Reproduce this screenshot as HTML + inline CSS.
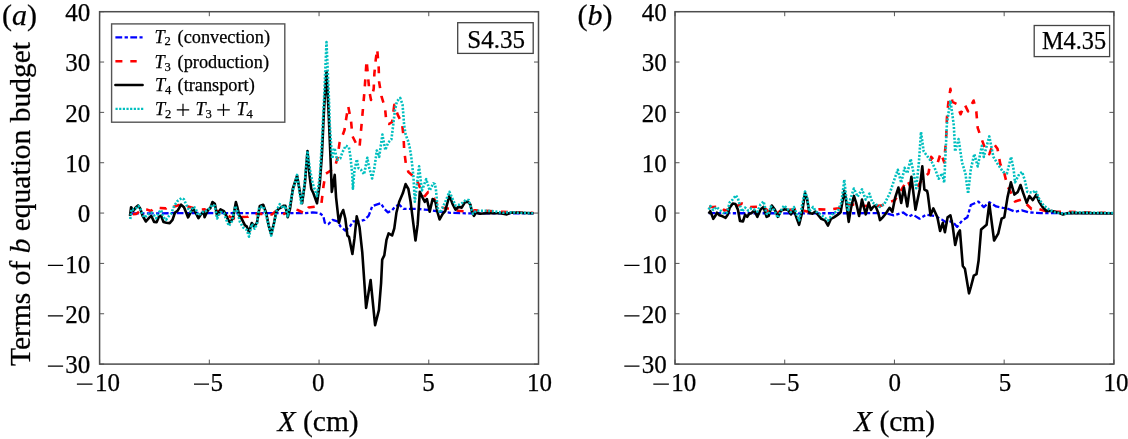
<!DOCTYPE html>
<html><head><meta charset="utf-8"><style>html,body{margin:0;padding:0;background:#fff;}svg{display:block;will-change:transform;}</style></head>
<body><svg width="1128" height="439" viewBox="0 0 1128 439" font-family="Liberation Serif, serif" fill="#000"><style>text{stroke:#000;stroke-width:0.25px;}</style>
<g transform="translate(0,0)">
<path d="M99.60 11.70v4.5M99.60 364.10v-4.5M209.32 11.70v4.5M209.32 364.10v-4.5M319.05 11.70v4.5M319.05 364.10v-4.5M428.77 11.70v4.5M428.77 364.10v-4.5M538.50 11.70v4.5M538.50 364.10v-4.5M99.60 364.10h4.5M538.50 364.10h-4.5M99.60 313.76h4.5M538.50 313.76h-4.5M99.60 263.41h4.5M538.50 263.41h-4.5M99.60 213.07h4.5M538.50 213.07h-4.5M99.60 162.73h4.5M538.50 162.73h-4.5M99.60 112.39h4.5M538.50 112.39h-4.5M99.60 62.04h4.5M538.50 62.04h-4.5M99.60 11.70h4.5M538.50 11.70h-4.5" stroke="#555" stroke-width="1" fill="none"/>
<path d="M132.0 213.5 L200.0 213.0 L290.0 213.2 L297.1 213.2 L304.2 213.2 L312.7 212.4 L319.8 213.2 L323.3 216.0 L324.8 222.8 L328.3 224.2 L332.6 219.9 L337.5 221.3 L340.4 226.3 L345.3 230.6 L349.6 227.0 L353.1 221.3 L359.5 221.3 L364.5 219.9 L368.7 215.7 L372.3 206.1 L376.5 204.6 L380.8 203.2 L384.3 208.9 L387.9 212.4 L392.1 210.3 L395.7 206.1 L399.2 204.6 L403.5 208.9 L410.6 208.9 L417.7 208.9 L424.8 209.6 L431.8 210.3 L438.9 211.7 L446.0 212.1 L450.4 212.8 L465.8 213.3 L533.5 213.3" fill="none" stroke-linejoin="round" stroke="#0000ff" stroke-width="2.3" stroke-dasharray="6.8 2.4 3.3 2.4"/>
<path d="M132.8 214.1 L136.0 214.0 L140.0 211.0 L143.0 209.2 L147.1 209.6 L151.0 211.0 L155.3 207.6 L160.2 208.0 L166.0 208.4 L169.7 205.5 L173.0 207.0 L179.1 205.1 L182.4 204.3 L186.0 206.0 L190.6 207.2 L194.7 208.4 L200.0 209.5 L204.6 209.4 L212.5 213.9 L218.0 211.0 L226.2 214.5 L230.8 217.3 L237.6 220.2 L242.0 217.0 L247.8 216.8 L252.4 213.9 L261.5 213.9 L271.8 214.5 L276.0 211.0 L283.1 214.5 L288.0 211.0 L294.3 208.9 L298.5 210.3 L304.2 213.2 L308.4 207.5 L314.8 206.8 L317.7 205.5 L321.5 203.0 L323.5 186.0 L325.5 174.0 L330.0 171.0 L334.5 168.0 L337.5 158.0 L339.5 143.0 L342.0 137.0 L344.5 130.0 L346.3 118.0 L348.2 106.3 L351.0 120.5 L352.4 136.1 L356.0 143.2 L359.5 147.5 L360.9 131.9 L362.3 116.3 L364.5 91.0 L366.6 60.5 L368.0 76.1 L369.4 91.7 L371.0 100.0 L373.7 88.9 L374.4 73.3 L375.8 59.1 L377.2 49.2 L378.7 67.6 L379.1 81.8 L381.5 96.4 L385.0 107.8 L386.5 123.4 L389.0 124.0 L392.1 122.0 L394.3 104.9 L397.8 114.9 L402.0 123.4 L403.5 136.1 L404.2 150.3 L406.0 165.0 L408.4 172.0 L413.4 176.3 L418.4 183.4 L420.5 189.0 L424.8 196.1 L428.3 191.9 L433.3 197.6 L440.4 208.9 L442.2 207.7 L446.3 208.2 L458.6 210.8 L469.9 211.8 L475.0 210.3 L484.2 210.8 L501.7 211.8 L527.3 212.8 L533.5 213.0" fill="none" stroke-linejoin="round" stroke="#ff0000" stroke-width="2.6" stroke-dasharray="7 7.9"/>
<path d="M130.0 216.0 L131.1 207.2 L133.2 210.9 L135.7 207.6 L138.1 205.5 L140.2 208.4 L142.6 215.8 L145.9 221.5 L148.8 218.2 L151.2 215.8 L154.1 221.9 L156.6 222.3 L159.0 216.6 L161.1 215.8 L163.5 221.9 L166.4 222.7 L169.7 223.1 L172.5 219.9 L175.0 212.5 L177.5 210.9 L181.1 204.7 L184.0 207.2 L186.1 212.5 L188.1 217.4 L190.6 212.5 L193.0 208.4 L195.5 212.5 L198.4 218.2 L200.8 214.5 L203.7 212.1 L204.6 217.3 L208.0 209.9 L210.3 208.2 L212.5 202.0 L214.8 203.7 L217.1 215.6 L220.5 209.4 L223.9 211.1 L226.8 216.8 L229.6 222.5 L233.0 218.5 L235.9 202.0 L237.6 208.2 L239.3 215.6 L242.1 219.6 L245.0 225.3 L246.7 226.4 L249.0 232.1 L251.8 223.0 L254.1 226.4 L256.9 223.0 L259.8 205.9 L263.2 204.8 L266.1 212.8 L268.9 226.4 L271.2 234.4 L274.0 223.0 L276.3 211.6 L278.6 208.8 L280.9 207.7 L283.1 205.9 L285.4 205.9 L287.7 217.3 L290.0 208.9 L292.8 189.0 L297.1 175.6 L300.6 196.1 L302.1 203.2 L304.9 183.4 L307.5 151.0 L309.5 175.0 L311.3 189.0 L313.4 193.3 L317.0 203.2 L319.8 183.4 L321.9 155.0 L324.0 110.0 L326.5 71.2 L328.5 110.0 L330.4 155.0 L331.8 191.9 L334.7 174.9 L336.1 197.6 L338.9 222.8 L341.1 214.3 L343.2 210.0 L345.3 218.5 L347.4 235.5 L349.0 237.0 L352.4 254.0 L354.5 238.4 L356.7 216.4 L359.5 227.0 L362.3 252.6 L366.1 307.9 L370.6 280.0 L375.1 325.2 L378.9 310.1 L381.1 283.0 L382.2 259.6 L384.3 255.4 L386.5 239.8 L388.6 233.4 L392.1 235.5 L394.3 228.4 L396.4 212.8 L399.2 201.8 L402.8 193.3 L405.6 184.1 L408.4 189.0 L410.6 201.8 L413.4 224.2 L415.5 240.5 L417.7 224.2 L419.8 191.9 L422.6 197.6 L424.8 201.8 L426.9 199.0 L429.7 211.7 L432.6 199.0 L435.4 201.8 L437.1 210.8 L439.6 219.5 L442.7 213.8 L445.3 210.8 L449.4 195.4 L452.4 203.6 L455.5 209.7 L458.6 206.7 L461.7 207.7 L464.7 202.6 L467.8 201.5 L470.4 204.6 L471.9 211.8 L474.0 215.9 L476.0 212.8 L480.1 213.8 L486.3 213.3 L492.4 213.3 L500.6 213.3 L506.8 214.4 L510.9 212.6 L517.0 212.8 L533.5 213.3" fill="none" stroke-linejoin="round" stroke="#000" stroke-width="2.6"/>
<path d="M130.3 219.0 L131.5 209.0 L133.2 209.6 L135.7 208.4 L138.5 205.9 L140.6 209.6 L143.9 217.4 L146.7 215.8 L148.8 214.1 L151.2 212.5 L153.7 215.0 L156.1 218.2 L159.4 211.7 L161.1 210.0 L163.5 217.4 L166.0 219.9 L168.4 216.6 L170.9 214.1 L174.2 205.9 L177.5 201.0 L181.6 198.1 L184.0 199.4 L185.7 203.5 L188.1 208.4 L190.6 211.7 L193.0 206.8 L195.5 208.0 L197.9 215.0 L200.4 214.1 L203.7 211.3 L204.6 211.6 L208.0 210.0 L212.5 204.8 L214.8 206.0 L217.1 218.5 L220.5 212.0 L223.9 213.0 L226.2 219.6 L229.0 225.9 L231.9 221.3 L235.3 206.0 L237.6 212.0 L239.9 221.9 L243.3 227.6 L246.7 229.8 L249.0 236.7 L251.8 224.0 L254.7 228.7 L256.9 224.0 L259.2 207.1 L263.2 206.5 L266.1 215.0 L269.4 228.7 L271.2 235.6 L274.0 224.0 L276.7 210.5 L279.7 204.2 L283.1 208.2 L285.1 205.9 L287.7 216.2 L290.0 204.6 L293.0 190.0 L297.1 174.9 L301.3 204.6 L304.5 185.0 L307.5 151.0 L310.0 170.0 L312.7 183.4 L317.0 196.1 L319.8 176.3 L322.0 140.0 L324.0 100.0 L326.5 42.1 L329.0 100.0 L329.8 125.0 L331.4 148.9 L332.2 158.5 L334.6 148.1 L337.0 160.0 L340.2 158.5 L342.5 152.1 L345.7 145.7 L348.9 147.3 L350.5 156.9 L352.1 172.8 L352.9 188.8 L354.5 169.7 L356.9 159.3 L358.5 168.1 L360.9 169.7 L364.1 174.4 L367.3 157.7 L368.9 166.5 L372.1 178.4 L374.4 168.1 L376.8 150.5 L379.2 156.9 L382.4 134.6 L385.3 150.0 L388.2 142.6 L391.4 139.4 L393.0 126.7 L395.0 110.0 L397.0 101.2 L400.2 98.0 L402.5 104.4 L403.3 113.9 L404.1 125.1 L405.7 134.7 L408.1 141.0 L409.7 147.4 L411.3 157.0 L413.4 176.3 L414.8 201.8 L419.1 166.3 L421.9 190.5 L426.2 179.1 L429.7 190.5 L433.3 183.4 L435.0 184.1 L436.0 190.3 L437.5 207.5 L440.1 212.8 L442.0 209.0 L446.3 199.5 L449.4 191.8 L452.4 198.5 L455.5 205.6 L459.6 204.6 L462.7 202.6 L465.8 200.0 L468.8 200.0 L470.9 207.7 L473.0 213.8 L476.0 210.8 L481.2 210.8 L486.3 210.8 L494.5 211.3 L502.7 212.8 L508.8 212.3 L517.0 212.6 L533.5 213.3" fill="none" stroke-linejoin="round" stroke="#00bfbf" stroke-width="2.6" stroke-dasharray="2 1.6"/>
<rect x="99.6" y="11.7" width="438.90" height="352.40" fill="none" stroke="#4d4d4d" stroke-width="1.5"/>
<text x="90.3" y="373.30" font-size="25" text-anchor="end">30</text>
<text x="90.3" y="322.96" font-size="25" text-anchor="end">20</text>
<text x="90.3" y="272.61" font-size="25" text-anchor="end">10</text>
<text x="90.3" y="222.27" font-size="25" text-anchor="end">0</text>
<text x="90.3" y="171.93" font-size="25" text-anchor="end">10</text>
<text x="90.3" y="121.59" font-size="25" text-anchor="end">20</text>
<text x="90.3" y="71.24" font-size="25" text-anchor="end">30</text>
<text x="90.3" y="20.90" font-size="25" text-anchor="end">40</text>
<text x="119.9" y="391" font-size="25" text-anchor="end">10</text>
<text x="223.0" y="391" font-size="25" text-anchor="end">5</text>
<text x="318.3" y="391" font-size="25" text-anchor="middle">0</text>
<text x="428.6" y="391" font-size="25" text-anchor="middle">5</text>
<text x="539.6" y="391" font-size="25" text-anchor="middle">10</text>
<path d="M47.9 366.10h15.2M47.9 315.76h15.2M47.9 265.41h15.2M76.9 384.1h15.6M194.0 384.1h15" stroke="#000" stroke-width="1.25"/>
<text x="277.6" y="430.6" font-size="29.5"><tspan font-style="italic">X</tspan> (cm)</text>
<text x="2" y="24.5" font-size="30">(<tspan font-style="italic">a</tspan>)</text>
<text transform="translate(30.3,366) rotate(-90)" x="0" y="0" font-size="29.5">Terms of <tspan font-style="italic">b</tspan> equation budget</text>
<rect x="457.7" y="22.7" width="75.50000000000006" height="30.7" fill="#fff" stroke="#444" stroke-width="1.3"/>
<text x="467.3" y="47.6" font-size="25">S4.35</text>
<rect x="111.6" y="23.9" width="173.2" height="98.3" fill="#fff" stroke="#555" stroke-width="1.4"/>
<path d="M115.4 37.3h27.2" stroke="#0000ff" stroke-width="2.3" stroke-dasharray="6.8 2.4 3.3 2.4"/>
<path d="M115.4 61.2h21.3" stroke="#ff0000" stroke-width="2.4" stroke-dasharray="7 7.9"/>
<path d="M115.4 85h27.2" stroke="#000" stroke-width="2.5" stroke-linecap="round"/>
<path d="M115.5 108.9h28" stroke="#00bfbf" stroke-width="2.3" stroke-dasharray="2.2 1.45"/>
<g font-size="18.3">
<text x="154.5" y="42.6"><tspan font-style="italic">T</tspan></text><text x="164.6" y="45.4" font-size="12.6">2</text><text x="177.6" y="42.6">(convection)</text>
<text x="154.5" y="68"><tspan font-style="italic">T</tspan></text><text x="164.6" y="70.8" font-size="12.6">3</text><text x="177.6" y="68">(production)</text>
<text x="155" y="91.1"><tspan font-style="italic">T</tspan></text><text x="165" y="93.9" font-size="12.6">4</text><text x="177.6" y="91.1">(transport)</text>
<text x="155" y="114.7"><tspan font-style="italic">T</tspan></text><text x="165" y="117.5" font-size="12.6">2</text>
<text x="195.5" y="114.7"><tspan font-style="italic">T</tspan></text><text x="205.5" y="117.5" font-size="12.6">3</text>
<path d="M176.8 109.9h12.4M183 103.7v12.4M217.2 109.9h12.6M223.5 103.7v12.4" stroke="#000" stroke-width="1.2"/>
<text x="236.5" y="114.7"><tspan font-style="italic">T</tspan></text><text x="246.5" y="117.5" font-size="12.6">4</text>
</g>
</g>
<g transform="translate(575.4,0)">
<path d="M99.60 11.70v4.5M99.60 364.10v-4.5M209.32 11.70v4.5M209.32 364.10v-4.5M319.05 11.70v4.5M319.05 364.10v-4.5M428.77 11.70v4.5M428.77 364.10v-4.5M538.50 11.70v4.5M538.50 364.10v-4.5M99.60 364.10h4.5M538.50 364.10h-4.5M99.60 313.76h4.5M538.50 313.76h-4.5M99.60 263.41h4.5M538.50 263.41h-4.5M99.60 213.07h4.5M538.50 213.07h-4.5M99.60 162.73h4.5M538.50 162.73h-4.5M99.60 112.39h4.5M538.50 112.39h-4.5M99.60 62.04h4.5M538.50 62.04h-4.5M99.60 11.70h4.5M538.50 11.70h-4.5" stroke="#555" stroke-width="1" fill="none"/>
<path d="M133.3 213.2 L224.6 213.3 L304.6 213.2 L310.1 213.2 L318.3 215.3 L327.8 212.5 L333.3 216.6 L337.4 214.6 L344.2 218.7 L351.0 214.6 L359.2 216.0 L366.1 219.4 L371.5 222.8 L376.6 221.0 L381.8 226.9 L386.6 220.7 L392.0 217.3 L395.4 205.0 L403.0 201.6 L408.4 207.1 L413.9 202.3 L420.7 206.4 L427.6 207.8 L431.4 208.3 L439.6 211.7 L446.5 210.4 L453.3 212.4 L465.6 213.1 L537.6 213.1" fill="none" stroke-linejoin="round" stroke="#0000ff" stroke-width="2.3" stroke-dasharray="6.8 2.4 3.3 2.4"/>
<path d="M133.8 207.0 L137.9 207.0 L145.1 206.5 L149.2 210.6 L156.4 208.6 L159.6 207.0 L166.6 203.5 L169.7 204.5 L174.8 207.0 L186.1 206.5 L191.2 209.6 L196.4 215.8 L202.5 212.7 L206.6 209.6 L209.6 210.0 L222.9 209.3 L231.8 211.5 L243.7 209.3 L254.0 209.7 L262.9 208.2 L274.8 204.1 L286.6 206.0 L305.9 205.6 L319.6 200.0 L331.9 180.1 L335.6 188.0 L340.1 189.6 L346.6 180.0 L353.1 173.3 L355.8 156.9 L358.6 160.0 L362.0 163.7 L365.4 152.8 L368.8 162.3 L370.2 144.6 L370.9 134.6 L371.5 118.3 L372.9 103.2 L375.0 88.9 L377.0 101.9 L381.1 103.9 L385.2 114.2 L389.3 104.6 L392.7 111.4 L398.2 100.5 L400.9 111.4 L402.3 127.8 L405.7 137.7 L409.8 148.7 L413.9 154.1 L418.0 143.2 L422.1 148.7 L424.8 163.7 L428.9 173.3 L432.1 186.4 L438.3 197.4 L439.6 201.5 L446.5 199.4 L456.1 209.0 L460.2 208.3 L472.5 211.7 L487.5 211.7 L537.6 213.1" fill="none" stroke-linejoin="round" stroke="#ff0000" stroke-width="2.6" stroke-dasharray="7 7.9"/>
<path d="M133.3 213.7 L134.9 211.1 L137.9 218.8 L140.0 215.8 L141.5 212.7 L144.1 215.2 L147.2 216.3 L150.2 217.8 L152.3 214.7 L154.3 207.6 L157.4 203.5 L160.0 204.0 L162.5 209.6 L164.6 220.9 L167.6 221.4 L169.7 214.7 L171.8 216.8 L173.8 213.7 L175.9 213.2 L178.9 210.6 L182.0 216.8 L185.1 209.6 L188.2 207.0 L191.2 216.8 L193.3 215.8 L196.4 205.5 L199.4 209.6 L202.5 216.8 L205.6 210.6 L209.6 209.3 L212.6 210.0 L215.5 214.4 L218.5 210.0 L221.5 218.9 L223.7 224.8 L226.6 213.0 L229.6 193.0 L231.8 199.6 L234.0 213.0 L237.0 213.7 L240.0 211.5 L242.9 215.2 L245.9 218.9 L249.6 220.4 L252.6 225.6 L255.5 218.9 L258.5 217.4 L262.9 214.4 L265.2 212.2 L267.4 199.6 L268.9 190.7 L270.3 198.1 L273.3 221.9 L275.5 208.5 L278.5 195.9 L280.7 202.6 L283.7 215.9 L286.6 199.6 L290.3 214.4 L293.3 202.6 L295.5 210.0 L297.7 207.0 L300.0 205.6 L302.9 213.0 L304.6 220.1 L307.3 217.3 L310.1 214.0 L314.2 207.8 L316.9 211.9 L319.6 198.2 L323.0 187.6 L325.8 203.0 L328.5 187.6 L331.9 206.4 L336.0 176.7 L340.1 209.8 L344.2 190.0 L346.9 166.4 L349.0 189.6 L351.7 191.0 L352.4 194.1 L355.1 215.3 L357.9 208.4 L362.0 217.3 L364.7 231.0 L367.4 222.8 L369.5 232.3 L372.2 217.3 L375.0 215.3 L377.0 224.2 L379.8 245.0 L382.5 233.7 L384.5 230.3 L387.4 266.0 L389.5 268.7 L393.6 293.4 L395.6 286.5 L398.4 275.6 L401.1 274.2 L403.2 260.5 L405.7 229.6 L411.2 224.8 L413.9 203.7 L418.7 240.5 L422.8 233.7 L426.2 218.7 L428.9 217.3 L432.1 197.4 L435.5 182.3 L439.0 194.6 L442.4 191.9 L445.1 185.0 L447.9 193.3 L451.3 202.8 L454.0 196.0 L457.4 200.1 L460.9 194.6 L463.6 201.5 L467.0 206.9 L471.1 211.0 L476.6 211.0 L482.1 212.4 L487.5 214.5 L493.0 213.1 L506.7 213.1 L537.6 213.5" fill="none" stroke-linejoin="round" stroke="#000" stroke-width="2.6"/>
<path d="M133.3 209.6 L134.9 206.0 L137.9 210.0 L141.0 207.0 L145.1 210.6 L149.2 213.7 L151.6 212.5 L154.3 202.4 L157.4 199.4 L160.5 195.3 L162.5 198.3 L164.6 205.5 L166.6 211.6 L169.7 207.6 L172.8 210.6 L175.9 208.6 L178.9 209.6 L182.0 211.6 L185.1 204.5 L188.2 201.4 L191.2 213.7 L193.3 214.5 L195.3 206.5 L198.6 210.0 L202.5 217.8 L205.6 210.6 L208.6 205.5 L212.8 209.6 L215.5 212.2 L218.5 207.0 L221.5 214.4 L223.7 220.4 L226.6 205.6 L229.6 191.5 L231.8 198.0 L234.0 211.5 L237.7 207.0 L240.7 211.5 L245.2 214.4 L248.6 217.0 L252.6 220.4 L257.0 214.4 L262.9 210.0 L265.9 202.6 L268.1 186.3 L268.9 179.6 L270.3 193.0 L272.6 211.5 L274.8 199.6 L278.5 188.5 L282.2 196.7 L286.6 189.3 L290.3 199.6 L294.0 193.7 L297.0 202.6 L300.0 204.1 L304.4 207.0 L308.9 204.1 L314.2 193.7 L318.3 181.4 L322.4 169.8 L325.8 182.8 L329.2 167.8 L331.9 173.3 L335.3 158.9 L338.8 176.0 L340.8 188.3 L343.5 162.3 L345.6 131.9 L348.3 151.4 L352.4 156.9 L356.5 162.3 L359.2 167.8 L363.3 178.7 L366.8 173.3 L368.8 182.8 L371.5 123.7 L375.0 100.5 L378.4 125.1 L379.1 138.7 L379.7 151.4 L383.2 139.1 L386.6 162.3 L390.0 173.3 L392.7 193.7 L395.4 169.2 L398.9 154.1 L402.3 166.4 L406.4 145.9 L408.4 156.9 L413.9 136.4 L418.0 156.9 L422.1 163.7 L427.6 171.9 L431.6 173.3 L435.7 156.9 L438.3 170.0 L439.6 182.3 L443.8 174.1 L446.7 171.9 L449.4 180.1 L452.0 191.9 L457.4 192.6 L460.2 190.5 L464.3 200.1 L468.4 205.6 L473.8 209.7 L479.3 212.4 L484.8 213.1 L490.3 213.8 L497.1 212.4 L537.6 213.1" fill="none" stroke-linejoin="round" stroke="#00bfbf" stroke-width="2.6" stroke-dasharray="2 1.6"/>
<rect x="99.6" y="11.7" width="438.90" height="352.40" fill="none" stroke="#4d4d4d" stroke-width="1.5"/>
<text x="91.3" y="373.30" font-size="25" text-anchor="end">30</text>
<text x="91.3" y="322.96" font-size="25" text-anchor="end">20</text>
<text x="91.3" y="272.61" font-size="25" text-anchor="end">10</text>
<text x="91.3" y="222.27" font-size="25" text-anchor="end">0</text>
<text x="91.3" y="171.93" font-size="25" text-anchor="end">10</text>
<text x="91.3" y="121.59" font-size="25" text-anchor="end">20</text>
<text x="91.3" y="71.24" font-size="25" text-anchor="end">30</text>
<text x="91.3" y="20.90" font-size="25" text-anchor="end">40</text>
<text x="120.9" y="391" font-size="25" text-anchor="end">10</text>
<text x="224.0" y="391" font-size="25" text-anchor="end">5</text>
<text x="319.3" y="391" font-size="25" text-anchor="middle">0</text>
<text x="429.6" y="391" font-size="25" text-anchor="middle">5</text>
<text x="540.6" y="391" font-size="25" text-anchor="middle">10</text>
<path d="M48.9 366.10h15.2M48.9 315.76h15.2M48.9 265.41h15.2M77.9 384.1h15.6M195.0 384.1h15" stroke="#000" stroke-width="1.25"/>
<text x="278.6" y="430.6" font-size="29.5"><tspan font-style="italic">X</tspan> (cm)</text>
<text x="2" y="24.5" font-size="30">(<tspan font-style="italic">b</tspan>)</text>
<rect x="458.8" y="25.5" width="75.40000000000003" height="31.1" fill="#fff" stroke="#444" stroke-width="1.3"/>
<text x="466.6" y="49.2" font-size="24.3">M4.35</text>
</g>
</svg></body></html>
